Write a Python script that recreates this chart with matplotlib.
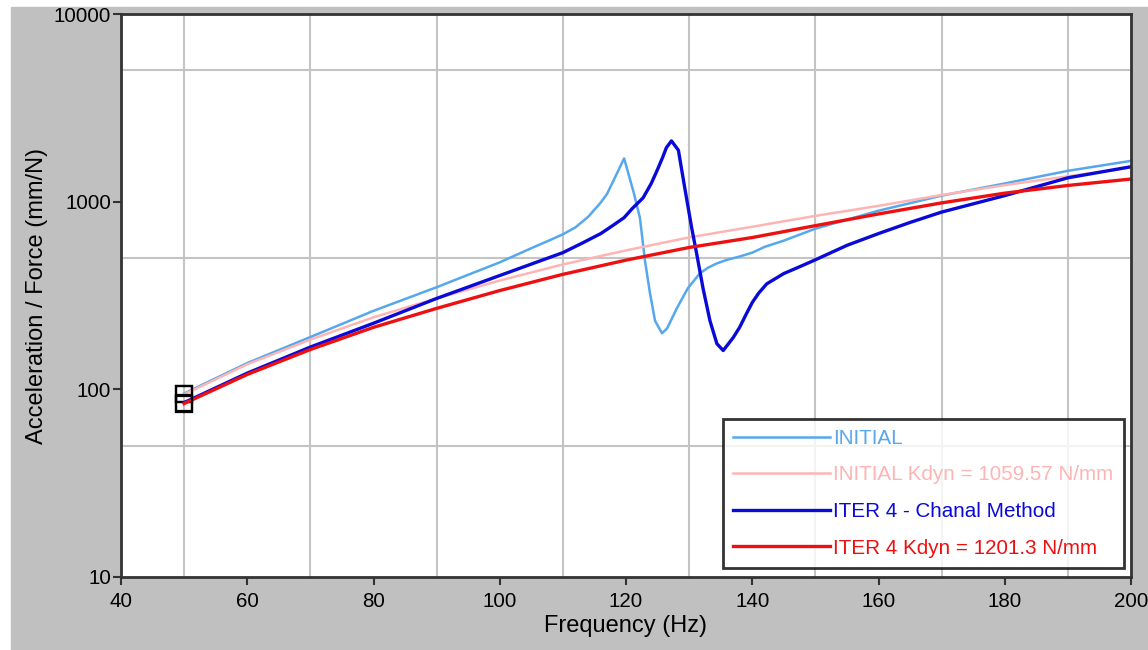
import numpy as np
import matplotlib
matplotlib.use("Agg")
import matplotlib.pyplot as plt
from matplotlib.patches import Rectangle
from matplotlib.ticker import FixedLocator, NullFormatter

plt.rcParams['font.family'] = ['Liberation Sans', 'DejaVu Sans']

# ─── DATA ───────────────────────────────────────────────────────────────────
freq_initial = [50, 60, 70, 80, 90, 100, 105, 108, 110, 112, 114, 115.9, 117, 118.5, 119.7,
                121.2, 122.2, 123.0, 123.8, 124.6, 125.7, 126.5, 128.1, 129.8, 131.7,
                133, 134.4, 136, 138, 140, 142, 145, 150, 160, 170, 180, 190, 200]
acc_initial = [95, 138, 190, 262, 350, 475, 565, 625, 670, 730, 830, 980, 1100, 1400, 1700,
               1125, 822, 486, 325, 232, 199, 211, 272, 346, 415,
               445, 469, 490, 510, 535, 575, 620, 718, 895, 1077, 1250, 1460, 1650]

freq_init_kdyn = [50, 60, 70, 80, 90, 100, 110, 120, 130, 140, 150, 160, 170, 180, 190, 200]
acc_init_kdyn = [94, 136, 184, 242, 305, 380, 463, 550, 645, 735, 840, 950, 1085, 1225, 1365, 1520]

freq_iter4 = [50, 60, 70, 80, 90, 100, 110, 113, 116, 118, 119.7, 121, 122.7, 124, 124.9,
              125.8, 126.4, 127.2, 128.3, 129.3, 130.4, 131.2, 132.2, 133.3, 134.4, 135.4,
              137, 138, 139, 140, 141, 142.3, 145, 147.5, 150, 155, 160, 165, 170, 180, 190, 200]
acc_iter4 = [85, 122, 168, 225, 305, 404, 535, 600, 676, 750, 822, 920, 1047, 1250, 1460,
             1720, 1940, 2108, 1880, 1188, 727, 527, 346, 232, 175, 161,
             189, 214, 250, 290, 325, 365, 414, 450, 490, 585, 676, 775, 880, 1077, 1340, 1535]

freq_iter4_kdyn = [50, 60, 70, 80, 90, 100, 110, 120, 130, 140, 150, 160, 170, 180, 190, 200]
acc_iter4_kdyn = [84, 120, 163, 214, 270, 336, 410, 488, 570, 644, 745, 860, 985, 1110, 1220, 1320]

labels = ["INITIAL", "INITIAL Kdyn = 1059.57 N/mm",
          "ITER 4 - Chanal Method", "ITER 4 Kdyn = 1201.3 N/mm"]

C_LIGHT = "#55a8ee"
C_PINK = "#ffb4b4"
C_BLUE = "#0a0ad8"
C_RED = "#ee1010"


def main():
    fig = plt.figure(figsize=(11.48, 6.5), dpi=100, facecolor="white")
    fig.patches.append(Rectangle((11 / 1148, 0), 1, 1 - 7 / 650,
                                 transform=fig.transFigure, color="#c0c0c0", zorder=-10))
    ax = fig.add_axes([121 / 1148, 1 - 577 / 650, 1010 / 1148, 563 / 650])

    series = [
        (freq_initial, acc_initial, C_LIGHT, 1.8),
        (freq_init_kdyn, acc_init_kdyn, C_PINK, 1.8),
        (freq_iter4, acc_iter4, C_BLUE, 2.4),
        (freq_iter4_kdyn, acc_iter4_kdyn, C_RED, 2.4),
    ]
    for (f, a, c, lw), lab in zip(series, labels):
        ax.plot(f, a, color=c, linewidth=lw, label=lab,
                marker="s", markevery=[0], markersize=11, markerfacecolor="none",
                markeredgecolor="black", markeredgewidth=1.6)

    ax.set_yscale("log")
    ax.set_xlim(40, 200)
    ax.set_ylim(10, 10000)

    ax.xaxis.set_major_locator(FixedLocator([40, 60, 80, 100, 120, 140, 160, 180, 200]))
    ax.xaxis.set_minor_locator(FixedLocator(list(range(40, 201, 10))))
    ax.yaxis.set_major_locator(FixedLocator([10, 100, 1000, 10000]))
    ax.yaxis.set_minor_locator(FixedLocator([10, 50, 100, 500, 1000, 5000, 10000]))
    ax.yaxis.set_minor_formatter(NullFormatter())
    ax.set_yticklabels(["10", "100", "1000", "10000"])

    ax.grid(True, which="minor", color="#c4c4c4", linewidth=1.5)
    ax.tick_params(which="minor", length=0)
    ax.tick_params(which="major", direction="out", length=6, width=1.5,
                   color="#333333", labelsize=14.8)
    ax.tick_params(axis="x", pad=4.5)
    ax.tick_params(axis="y", pad=1)
    ax.set_axisbelow(True)
    for s in ax.spines.values():
        s.set_color("#333333")
        s.set_linewidth(2)

    ax.set_xlabel("Frequency (Hz)", fontsize=17, labelpad=3)
    ax.set_ylabel("Acceleration / Force (mm/N)", fontsize=17, labelpad=4)

    leg = ax.legend(loc="lower right", bbox_to_anchor=(0.993, 0.016), fontsize=14.9,
                    frameon=True, fancybox=False, handlelength=4.7, handletextpad=0.15,
                    labelspacing=0.85, borderpad=0.5, borderaxespad=0)
    leg.get_frame().set_edgecolor("black")
    leg.get_frame().set_linewidth(2)
    for line, text in zip(leg.get_lines(), leg.get_texts()):
        line.set_marker("")
        text.set_color(line.get_color())

    fig.savefig("out.png", dpi=100, facecolor=fig.get_facecolor())


if __name__ == "__main__":
    main()
